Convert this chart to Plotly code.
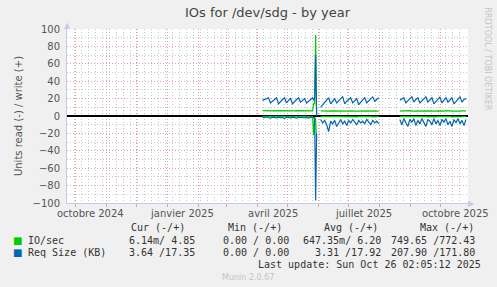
import plotly.graph_objects as go
import pandas as pd

# ---------------- data ----------------
seg1_start = "2025-04-06"
spike_dates = ["2025-05-27", "2025-05-28", "2025-05-29", "2025-05-30"]
seg2_start = "2025-06-03"
seg3_start = "2025-08-21"
step_days = 2

write_io_seg1 = [6.2, 6.0, 6.1, 6.3, 6.0, 5.9, 6.2, 6.1, 6.0, 6.4, 6.1, 6.0, 6.2, 6.3, 6.0, 6.1, 5.9, 6.2, 6.1, 6.0, 6.3, 6.1, 6.0, 6.2, 6.1, 6.0]
write_io_spike = [14, 14, 93, 0]
write_io_seg2 = [5.8, 5.6, 5.7, 5.9, 5.6, 5.8, 5.7, 5.6, 6.0, 5.7, 5.8, 5.6, 5.9, 5.7, 5.6, 5.8, 6.1, 5.7, 5.6, 5.8, 5.7, 5.9, 5.6, 5.8, 5.7, 6.0, 5.6, 5.8, 5.7, 5.9]
write_io_seg3 = [5.6, 5.8, 5.7, 5.9, 5.6, 6.2, 5.7, 5.8, 5.6, 5.9, 5.7, 6.1, 5.6, 5.8, 5.7, 5.9, 5.6, 6.0, 5.7, 5.8, 5.6, 5.9, 5.7, 6.1, 5.6, 5.8, 5.7, 5.9, 5.6, 6.0, 5.7, 5.8, 5.6, 5.8]

read_io_seg1 = [-0.6, -0.5, -0.7, -0.6, -0.5, -0.8, -0.6, -0.5, -0.7, -0.6, -0.5, -0.6, -0.7, -0.5, -0.6, -0.8, -0.6, -0.5, -0.7, -0.6, -0.5, -0.6, -0.7, -0.5, -0.6, -0.6]
read_io_spike = [-22, -1, -5, -28]
read_io_seg2 = [-0.8, -0.9, -0.7, -0.8, -1.0, -0.8, -0.7, -0.9, -0.8, -0.7, -0.8, -0.9, -0.8, -0.7, -0.8, -1.0, -0.8, -0.7, -0.9, -0.8, -0.7, -0.8, -0.9, -0.8, -0.7, -0.8, -1.0, -0.8, -0.7, -0.8]
read_io_seg3 = [-0.8, -0.9, -0.7, -0.8, -1.0, -0.8, -0.7, -0.9, -0.8, -0.7, -0.8, -0.9, -0.8, -0.7, -0.8, -1.0, -0.8, -0.7, -0.9, -0.8, -0.7, -0.8, -0.9, -0.8, -0.7, -0.8, -1.0, -0.8, -0.7, -0.8, -0.9, -0.8, -0.7, -0.8]

write_req_seg1 = [18, 19, 20, 21, 15, 17, 19, 21, 14, 17, 19, 21, 15, 18, 20, 14, 17, 19, 21, 16, 18, 20, 15, 17, 19, 21]
write_req_spike = [18, 20, 70, 0]
write_req_seg2 = [10, 13, 16, 19, 21, 14, 17, 20, 15, 18, 20, 22, 14, 17, 19, 21, 15, 18, 20, 13, 16, 19, 21, 15, 18, 20, 22, 17, 19, 21]
write_req_seg3 = [18, 20, 21, 15, 18, 20, 22, 16, 19, 21, 15, 17, 20, 22, 16, 19, 21, 14, 17, 20, 22, 15, 18, 21, 16, 19, 21, 14, 17, 20, 22, 16, 19, 20]

read_req_seg1 = [-1.5, -2, -1.2, -1.8, -2.5, -1.4, -1.6, -2.2, -1.3, -1.9, -1.5, -2.8, -1.4, -1.7, -2.1, -1.3, -1.6, -2.4, -1.5, -1.8, -1.3, -2, -1.6, -2.3, -1.4, -1.8]
read_req_spike = [-2, -2, -97, -20]
read_req_seg2 = [-4, -8, -5, -10, -18, -6, -9, -5, -12, -7, -4, -9, -6, -11, -5, -8, -4, -7, -10, -5, -8, -6, -9, -4, -7, -10, -5, -8, -6, -9]
read_req_seg3 = [-4, -10, -3, -8, -12, -4, -7, -3, -11, -5, -9, -3, -8, -12, -4, -6, -10, -3, -9, -5, -11, -4, -7, -3, -10, -6, -12, -4, -8, -3, -9, -5, -11, -4]

month_labels = ["octobre 2024", "janvier 2025", "avril 2025", "juillet 2025", "octobre 2025"]
month_label_dates = ["2024-10-16", "2025-01-16", "2025-04-16", "2025-07-16", "2025-10-16"]
x_range = ["2024-09-23", "2025-10-28"]

legend_headers = ["Cur (-/+)", "Min (-/+)", "Avg (-/+)", "Max (-/+)"]
legend_rows = [
    ("IO/sec", "#00CC00", ["6.14m/ 4.85", "0.00 / 0.00", "647.35m/ 6.20", "749.65 /772.43"]),
    ("Req Size (KB)", "#0066B3", ["3.64 /17.35", "0.00 / 0.00", "3.31 /17.92", "207.90 /171.80"]),
]

# ---------------- build series ----------------
def dates(start, n):
    return list(pd.date_range(start, periods=n, freq=f"{step_days}D"))

d1 = dates(seg1_start, len(write_io_seg1)) + list(pd.to_datetime(spike_dates))
d2 = dates(seg2_start, len(write_io_seg2))
d3 = dates(seg3_start, len(write_io_seg3))
gap1 = [pd.Timestamp("2025-05-31")]
gap2 = [pd.Timestamp("2025-08-10")]
X = d1 + gap1 + d2 + gap2 + d3

def join(a, sp, b, c):
    return a + sp + [None] + b + [None] + c

write_io = join(write_io_seg1, write_io_spike, write_io_seg2, write_io_seg3)
read_io = join(read_io_seg1, read_io_spike, read_io_seg2, read_io_seg3)
write_req = join(write_req_seg1, write_req_spike, write_req_seg2, write_req_seg3)
read_req = join(read_req_seg1, read_req_spike, read_req_seg2, read_req_seg3)

GREEN = "#00CC00"
BLUE = "#0066B3"

fig = go.Figure()
for ys, col in [(read_io, GREEN), (write_io, GREEN), (read_req, BLUE), (write_req, BLUE)]:
    fig.add_trace(go.Scatter(x=X, y=ys, mode="lines", line=dict(color=col, width=1.2),
                             connectgaps=False, showlegend=False, hoverinfo="skip"))

month_starts = list(pd.date_range("2024-10-01", "2025-10-01", freq="MS"))

RED_GRID = "#e6a0a0"
GRAY_GRID = "#c8c8c8"
AXIS = "#c8c8ee"
TXT = "#555555"

fig.update_layout(
    width=497, height=287,
    margin=dict(l=67, r=29, t=29, b=84),
    paper_bgcolor="#F0F0F0", plot_bgcolor="#FFFFFF",
    font=dict(family="DejaVu Sans", size=9, color=TXT),
    showlegend=False,
    xaxis=dict(
        type="date", range=x_range, tickvals=month_starts, ticktext=[""] * len(month_starts),
        showgrid=True, gridcolor=RED_GRID, griddash="1px,2px", gridwidth=1,
        ticks="outside", ticklen=3, tickcolor=RED_GRID,
        minor=dict(dtick=7 * 86400000, tick0="2024-09-23", showgrid=True,
                   gridcolor=GRAY_GRID, griddash="1px,2px", ticks=""),
        showline=True, linecolor=AXIS, linewidth=1, zeroline=False, fixedrange=True,
    ),
    yaxis=dict(
        range=[-100, 100], tickvals=list(range(-100, 101, 20)),
        showgrid=True, gridcolor=RED_GRID, griddash="1px,2px", gridwidth=1,
        minor=dict(dtick=10, showgrid=True, gridcolor=GRAY_GRID, griddash="1px,2px"),
        zeroline=True, zerolinecolor="#000000", zerolinewidth=1.6,
        showline=True, linecolor=AXIS, linewidth=1,
        ticks="", tickfont=dict(size=10, color=TXT), ticklabelstandoff=4,
        title=dict(text="Units read (-) / write (+)", font=dict(size=10, color=TXT), standoff=8),
    ),
)

ann = []
# title
ann.append(dict(text="IOs for /dev/sdg - by year", xref="paper", yref="paper", x=0.5, y=1,
                yshift=17, xanchor="center", yanchor="middle", showarrow=False,
                font=dict(family="DejaVu Sans", size=13, color="#444")))
# month labels
for lab, d in zip(month_labels, month_label_dates):
    ann.append(dict(text=lab, x=d, xref="x", yref="paper", y=0, yshift=-10,
                    xanchor="center", yanchor="middle", showarrow=False,
                    font=dict(size=10, color=TXT)))
# rrdtool watermark
ann.append(dict(text="RRDTOOL / TOBI OETIKER", xref="paper", yref="paper",
                x=1, y=1, xshift=19, yshift=24, textangle=90, xanchor="center", yanchor="top",
                showarrow=False, font=dict(size=8, color="#c4c4c4")))
# axis arrows
ann.append(dict(text="▲", xref="paper", yref="paper", x=0, y=1, yshift=4, xshift=0,
                xanchor="center", yanchor="middle", showarrow=False, font=dict(size=8, color=AXIS)))
ann.append(dict(text="▶", xref="paper", yref="paper", x=1, y=0, xshift=3,
                xanchor="center", yanchor="middle", showarrow=False, font=dict(size=8, color=AXIS)))

MONO = "DejaVu Sans Mono"
def px_ann(text, x, y, anchor, size=10, color="#333", family=MONO):
    ann.append(dict(text=text, xref="paper", yref="paper",
                    x=(x - 67) / 401, y=(287 - 84 - y) / 174,
                    xanchor=anchor, yanchor="middle", showarrow=False,
                    font=dict(family=family, size=size, color=color)))

header_right = [187, 284, 380, 476]
value_right = [197, 291, 383, 477]
for h, xr in zip(legend_headers, header_right):
    px_ann(h, xr, 227, "right")
for i, (name, col, vals) in enumerate(legend_rows):
    y = 240 + 12 * i
    px_ann("■", 17, y, "center", size=10, color=col, family="DejaVu Sans")
    px_ann(name, 26, y, "left")
    for v, xr in zip(vals, value_right):
        px_ann(v, xr, y, "right")
px_ann("Last update: Sun Oct 26 02:05:12 2025", 483, 264, "right")
px_ann("Munin 2.0.67", 248, 277, "center", size=8, color="#c4c4c4", family="DejaVu Sans")

fig.update_layout(annotations=ann)
fig.write_html("out.html")
